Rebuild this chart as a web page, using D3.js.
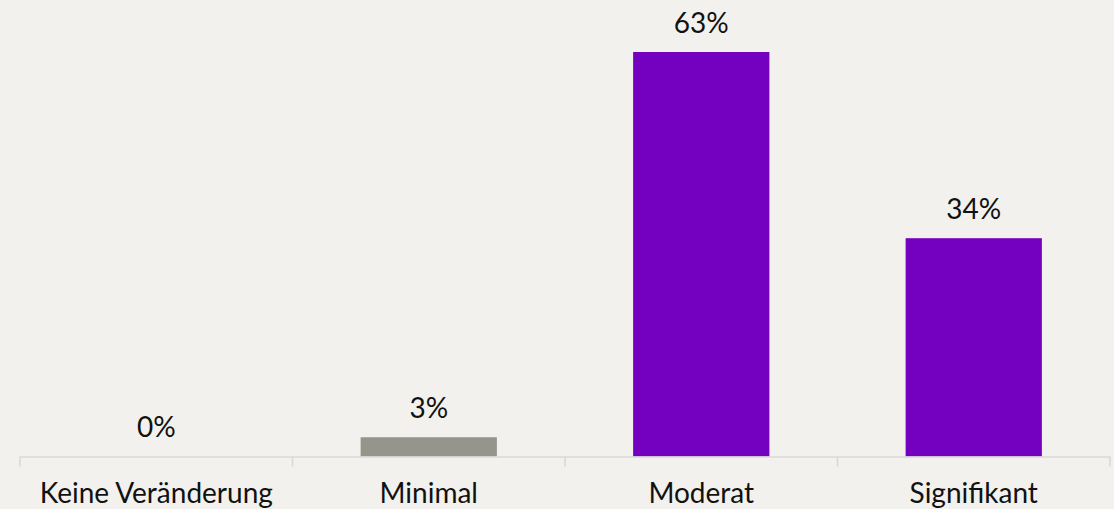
<!DOCTYPE html>
<html>
<head>
<meta charset="utf-8">
<script src="https://cdn.jsdelivr.net/npm/d3@7"></script>
<style>
  html, body { margin: 0; padding: 0; background: #f2f1ee; }
  svg { display: block; }
  text { font-family: Lato, "Open Sans", sans-serif; fill: #111; }
</style>
</head>
<body>
<svg id="chart" width="1114" height="509"></svg>
<script>
// Antwortverteilung
const categories = ["Keine Veränderung", "Minimal", "Moderat", "Signifikant"];
const values = [0, 3, 63, 34];
const barColors = ["#96958c", "#96958c", "#7400c0", "#7400c0"];

const plotLeft = 20, plotRight = 1110, baseline = 456.5, plotTop = 52;

const svg = d3.select("#chart");

const x = d3.scaleBand()
  .domain(categories)
  .range([plotLeft, plotRight])
  .paddingInner(0.5)
  .paddingOuter(0.25);

const y = d3.scaleLinear()
  .domain([0, 63])
  .range([baseline, plotTop]);

// bars
svg.append("g")
  .selectAll("rect")
  .data(values)
  .join("rect")
  .attr("x", (d, i) => x(categories[i]))
  .attr("y", d => y(d))
  .attr("width", x.bandwidth())
  .attr("height", d => baseline - y(d))
  .attr("fill", (d, i) => barColors[i]);

// value labels
svg.append("g")
  .selectAll("text")
  .data(values)
  .join("text")
  .attr("x", (d, i) => x(categories[i]) + x.bandwidth() / 2)
  .attr("y", d => y(d) - 19.5)
  .attr("text-anchor", "middle")
  .style("font-size", "28px")
  .text(d => d + "%");

// category axis with tick marks between bands
const axis = svg.append("g");
axis.append("line")
  .attr("x1", plotLeft).attr("x2", plotRight)
  .attr("y1", baseline + 0.5).attr("y2", baseline + 0.5)
  .attr("stroke", "#d9d9d9").attr("stroke-width", 1.6);

const tickXs = d3.range(categories.length + 1)
  .map(i => plotLeft + i * (plotRight - plotLeft) / categories.length);
axis.selectAll("line.tick")
  .data(tickXs)
  .join("line")
  .attr("class", "tick")
  .attr("x1", d => d).attr("x2", d => d)
  .attr("y1", baseline).attr("y2", baseline + 10)
  .attr("stroke", "#d9d9d9").attr("stroke-width", 1.6);

axis.selectAll("text")
  .data(categories)
  .join("text")
  .attr("x", d => x(d) + x.bandwidth() / 2)
  .attr("y", 503)
  .attr("text-anchor", "middle")
  .style("font-size", "28px")
  .text(d => d);
</script>
</body>
</html>
